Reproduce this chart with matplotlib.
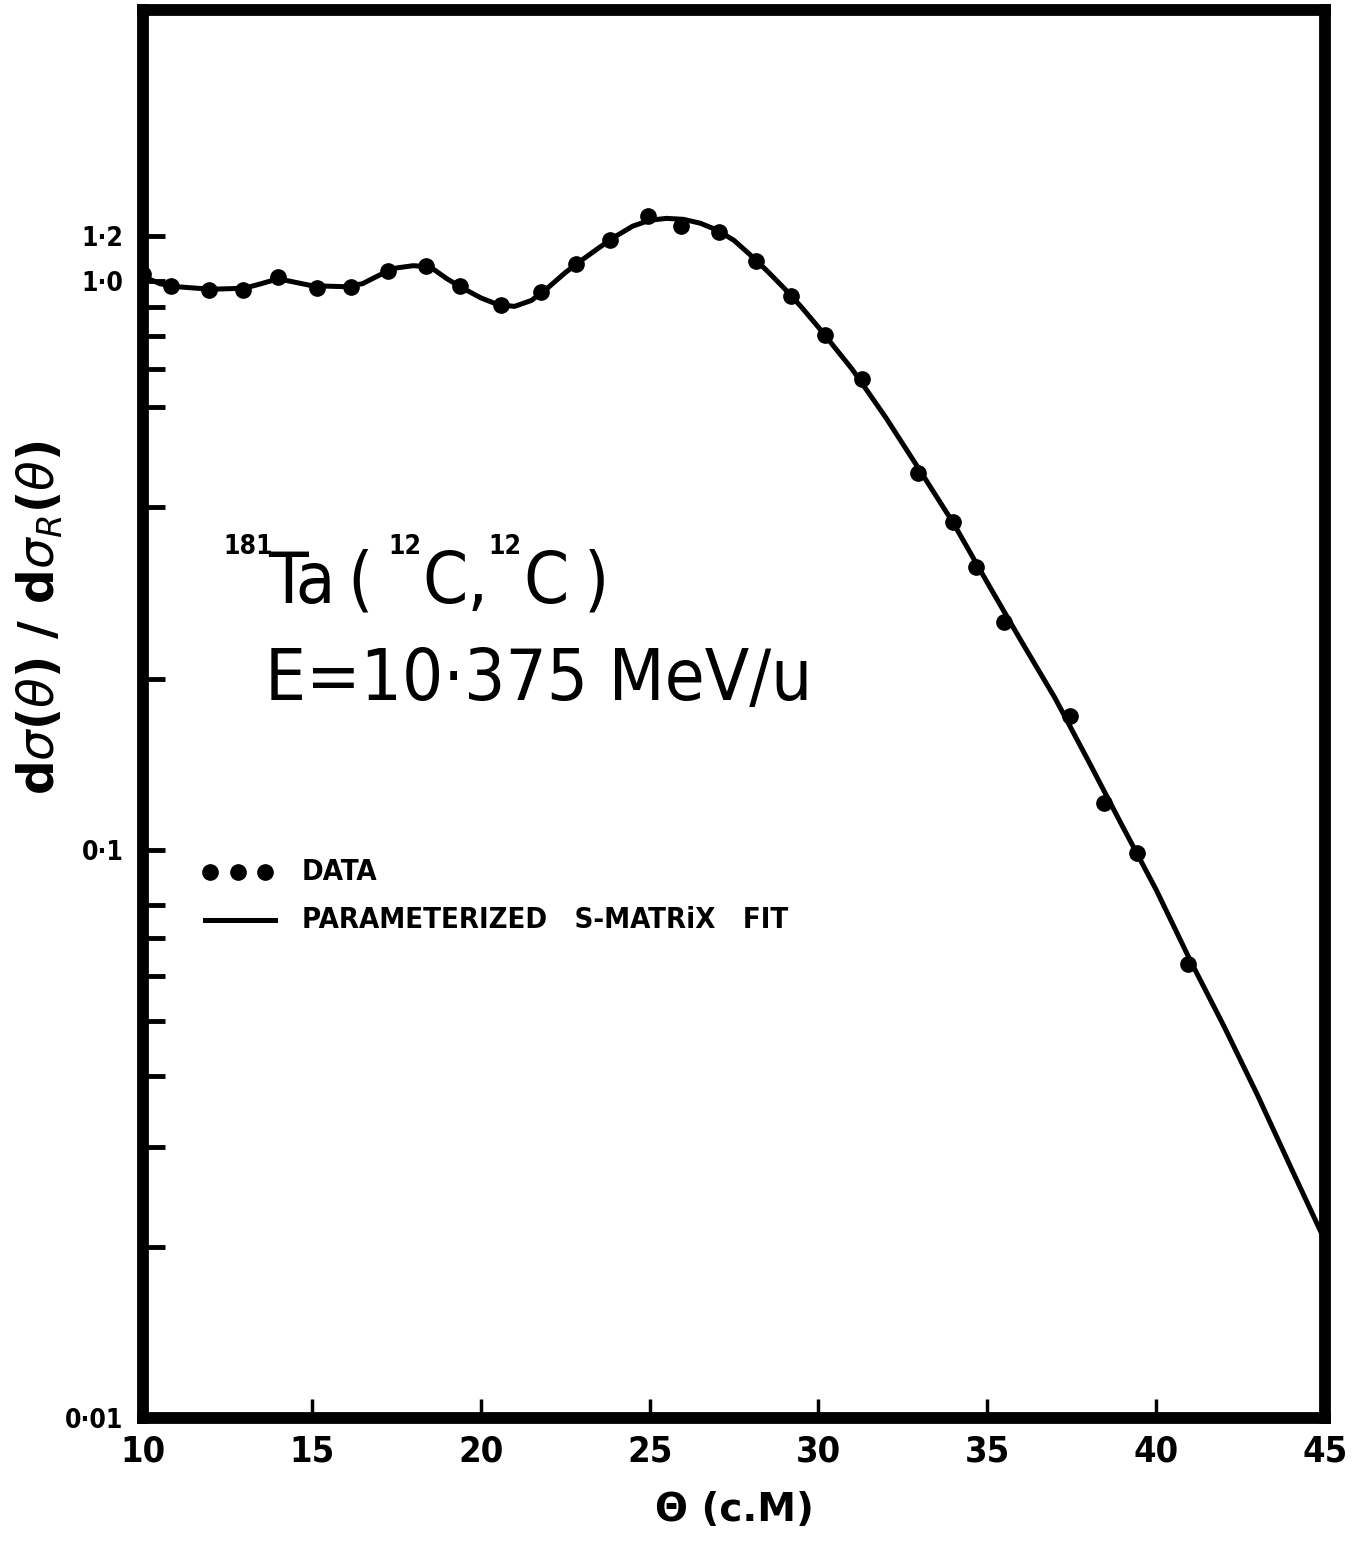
import matplotlib
matplotlib.use("Agg")
import matplotlib.pyplot as plt

# measured points (theta c.m. in degrees, ratio to Rutherford)
theta_data = [10.0, 10.83, 11.95, 12.96, 14.0, 15.15, 16.16, 17.25, 18.38, 19.39,
              20.6, 21.79, 22.82, 23.83, 24.95, 25.93, 27.06, 28.15, 29.19, 30.2,
              31.29, 32.95, 33.99, 34.67, 35.5, 37.45, 38.46, 39.43, 40.94]
ratio_data = [1.03, 0.982, 0.964, 0.964, 1.016, 0.972, 0.976, 1.041, 1.063, 0.982,
              0.907, 0.956, 1.071, 1.181, 1.301, 1.25, 1.22, 1.084, 0.941, 0.803,
              0.672, 0.459, 0.377, 0.314, 0.251, 0.1715, 0.121, 0.0988, 0.0628]

# parameterized S-matrix fit
theta_fit = [10.0, 10.5, 11.0, 12.0, 13.0, 13.5, 14.0, 15.0, 16.0, 16.5, 17.0, 17.5,
             18.0, 18.5, 19.0, 19.5, 20.0, 20.5, 21.0, 21.5, 22.0, 22.5, 23.0, 23.5,
             24.0, 24.5, 25.0, 25.5, 26.0, 26.5, 27.0, 27.5, 28.0, 28.5, 29.0, 29.5,
             30.0, 31.0, 32.0, 33.0, 34.0, 35.0, 36.0, 37.0, 38.0, 39.0, 40.0, 41.0,
             42.0, 43.0, 44.0, 45.0]
ratio_fit = [1.02, 0.99, 0.978, 0.968, 0.972, 0.99, 1.01, 0.982, 0.978, 0.99, 1.025, 1.055,
             1.065, 1.06, 1.01, 0.97, 0.935, 0.91, 0.903, 0.925, 0.975, 1.035, 1.09, 1.145,
             1.2, 1.25, 1.28, 1.29, 1.285, 1.265, 1.23, 1.18, 1.11, 1.04, 0.97, 0.9,
             0.83, 0.7, 0.575, 0.465, 0.375, 0.295, 0.233, 0.185, 0.143, 0.11, 0.085, 0.064,
             0.049, 0.037, 0.0275, 0.0205]

x_ticks = [10, 15, 20, 25, 30, 35, 40, 45]
y_ticks = [0.01, 0.02, 0.03, 0.04, 0.05, 0.06, 0.07, 0.08, 0.1,
           0.2, 0.4, 0.6, 0.7, 0.8, 0.9, 1.0, 1.2]
y_labels = {0.01: "0·01", 0.1: "0·1", 1.0: "1·0", 1.2: "1·2"}

fig = plt.figure(figsize=(13.54, 15.43), dpi=100)
ax = fig.add_axes([0.1056, 0.081, 0.873, 0.9125])

ax.plot(theta_fit, ratio_fit, color="black", linewidth=3.6, solid_capstyle="round")
ax.plot(theta_data, ratio_data, "o", color="black", markersize=11)

ax.set_yscale("log")
ax.set_xlim(10, 45)
ax.set_ylim(0.01, 3.0)

ax.set_yticks(y_ticks)
ax.set_yticklabels([y_labels.get(v, "") for v in y_ticks])
ax.yaxis.set_minor_locator(matplotlib.ticker.NullLocator())
ax.set_xticks(x_ticks)
ax.set_xticklabels([str(v) for v in x_ticks])

for s in ax.spines.values():
    s.set_linewidth(8.5)
ax.tick_params(axis="y", direction="in", length=16, width=3.5, pad=14)
ax.tick_params(axis="x", direction="in", length=14, width=2.5, pad=12)
for lab in ax.get_yticklabels():
    lab.set_fontweight("bold")
    lab.set_fontstretch("condensed")
    lab.set_fontsize(19)
for lab in ax.get_xticklabels():
    lab.set_fontweight("bold")
    lab.set_fontstretch("condensed")
    lab.set_fontsize(26)

ax.set_xlabel("Θ (c.M)", fontsize=28, fontweight="bold", labelpad=16)
ax.set_ylabel(r"d$\sigma$($\theta$) / d$\sigma_R$($\theta$)", fontsize=35,
              fontweight="bold")
ax.yaxis.set_label_coords(-0.066, 0.568)

# reaction label, pieced together so the mass numbers stay small
big = dict(transform=ax.transAxes, fontsize=52, fontstretch="condensed",
           ha="left", va="baseline")
small = dict(transform=ax.transAxes, fontsize=19, fontweight="bold",
             fontstretch="condensed", ha="left", va="baseline")
ax.text(0.0677, 0.614, "181", **small)
ax.text(0.1058, 0.579, "Ta", **big)
ax.text(0.1726, 0.579, "(", **big)
ax.text(0.2075, 0.614, "12", **small)
ax.text(0.2360, 0.579, "C,", **big)
ax.text(0.2925, 0.614, "12", **small)
ax.text(0.3215, 0.579, "C", **big)
ax.text(0.3730, 0.579, ")", **big)
ax.text(0.1032, 0.510, "E=10·375 MeV/u", **big)

# hand drawn key
ax.plot([0.0567, 0.0804, 0.1032], [0.388, 0.388, 0.388], "o", color="black",
        markersize=11, transform=ax.transAxes, clip_on=False)
ax.plot([0.0525, 0.1117], [0.354, 0.354], color="black", linewidth=3.6,
        transform=ax.transAxes)
ax.text(0.1345, 0.388, "DATA", transform=ax.transAxes, fontsize=21,
        fontweight="bold", fontstretch="condensed", va="center")
ax.text(0.1345, 0.354, "PARAMETERIZED   S-MATRiX   FIT", transform=ax.transAxes,
        fontsize=21, fontweight="bold", fontstretch="condensed", va="center")

fig.savefig("out.png", dpi=100)
